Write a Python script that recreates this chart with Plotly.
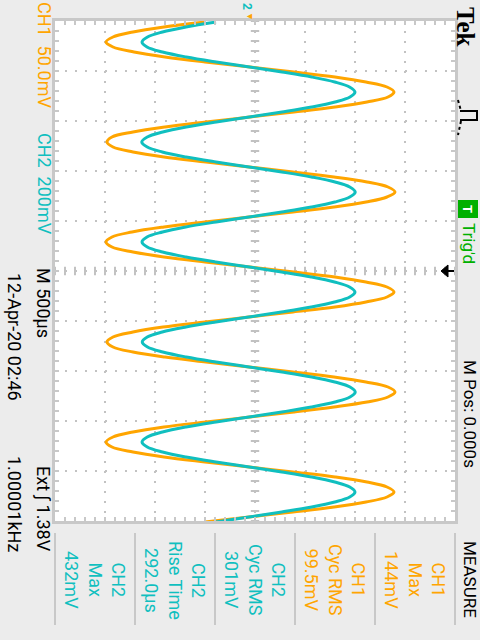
import numpy as np
import plotly.graph_objects as go

sample_interval_ms = 0.05      # one sample every 50 us
first_sample_ms = -2.49        # time of first sample (M Pos = 0.000 s at centre)

ch1_mv = [
    -44, -85, -116, -136, -143, -136, -115, -84, -44, 1, 45, 86, 117, 138, 145, 139, 118, 86, 45, 1,
    -43, -84, -116, -137, -142, -136, -116, -85, -43, 0, 44, 85, 118, 139, 146, 138, 117, 85, 44, 0,
    -44, -85, -117, -137, -143, -137, -116, -85, -44, 1, 45, 86, 117, 138, 145, 138, 117, 86, 44, 0,
    -44, -86, -116, -136, -142, -136, -116, -84, -43, 0, 44, 85, 117, 139, 146, 139, 118, 85, 45, 1,
    -43, -85, -116, -136, -143, -137, -116, -85, -44, 0, 44, 86, 118, 138, 145, 138, 117, 85, 44, 0,
    -44,
]
ch2_mv = [
    -132, -252, -346, -406, -428, -408, -346, -251, -131, 2, 132, 251, 343, 402, 424, 404, 344, 251, 132, 1,
    -131, -251, -345, -407, -429, -407, -347, -252, -132, 0, 131, 250, 344, 403, 425, 403, 343, 250, 131, 0,
    -132, -253, -346, -408, -428, -407, -346, -252, -133, 1, 130, 249, 342, 402, 424, 403, 342, 249, 130, -1,
    -133, -252, -347, -407, -427, -406, -345, -251, -132, 0, 132, 251, 343, 404, 425, 404, 344, 250, 131, 0,
    -132, -252, -346, -407, -428, -407, -346, -252, -132, 1, 131, 250, 343, 403, 424, 403, 343, 251, 131, 0,
    -132,
]
time_ms = first_sample_ms + sample_interval_ms * np.arange(len(ch1_mv))

ch1_scale_mv = 50.0     # per division
ch2_scale_mv = 200.0
ground_div = -0.12      # ground marker position (divisions from centre)
h_divs = 8              # voltage divisions (across)
t_half_ms = 2.5         # 10 div x 500 us

meas_sources = ["CH1", "CH1", "CH2", "CH2", "CH2"]
meas_types = ["Max", "Cyc RMS", "Cyc RMS", "Rise Time", "Max"]
meas_values = ["144mV", "99.5mV", "301mV", "292.0µs", "432mV"]

ORANGE = "#ffa500"
TEAL = "#10bfbf"
GRID = "#c2c2c2"
BORDER = "#c8c8c8"
BG = "#ececec"

W, H = 480, 640
ML, MR, MT, MB = 55, 25, 21, 119
PW, PH = W - ML - MR, H - MT - MB


def px(x):
    return (x - ML) / PW


def py(y):
    return (H - MB - y) / PH


def path(points):
    return "M " + " L ".join(f"{px(a):.5f},{py(b):.5f}" for a, b in points)


fig = go.Figure()

# graticule centre-line tick marks
cy = np.arange(-t_half_ms, t_half_ms + 1e-9, 0.1)
cx = np.arange(-h_divs / 2, h_divs / 2 + 1e-9, 0.2)
fig.add_trace(go.Scatter(x=np.zeros_like(cy), y=cy, mode="markers", xaxis="x", yaxis="y",
                         marker=dict(symbol="line-ew", size=6, line=dict(color=GRID, width=2)),
                         hoverinfo="skip"))
fig.add_trace(go.Scatter(x=cx, y=np.zeros_like(cx), mode="markers", xaxis="x", yaxis="y",
                         marker=dict(symbol="line-ns", size=6, line=dict(color=GRID, width=2)),
                         hoverinfo="skip"))

fig.add_trace(go.Scatter(x=ch1_mv, y=time_ms, mode="lines", xaxis="x2", yaxis="y",
                         line=dict(color=ORANGE, width=3, shape="spline"), name="CH1"))
fig.add_trace(go.Scatter(x=ch2_mv, y=time_ms, mode="lines", xaxis="x3", yaxis="y",
                         line=dict(color=TEAL, width=3, shape="spline"), name="CH2"))

lo = -h_divs / 2 - ground_div
hi = h_divs / 2 - ground_div

axis_common = dict(showgrid=True, gridcolor=GRID, gridwidth=2, griddash="2px,8px",
                   zeroline=False, showticklabels=False, ticks="inside", ticklen=4,
                   tickwidth=2, tickcolor=BORDER, showline=True, linecolor=BORDER,
                   linewidth=3, mirror="ticks", fixedrange=True)

fig.update_layout(
    width=W, height=H, autosize=False,
    margin=dict(l=ML, r=MR, t=MT, b=MB, pad=0),
    paper_bgcolor=BG, plot_bgcolor="white", showlegend=False,
    xaxis=dict(range=[-h_divs / 2, h_divs / 2], dtick=1, tick0=0,
               minor=dict(dtick=0.2, ticks="inside", ticklen=4, tickwidth=2,
                          tickcolor=BORDER, showgrid=False), **axis_common),
    xaxis2=dict(range=[lo * ch1_scale_mv, hi * ch1_scale_mv], overlaying="x", visible=False,
                fixedrange=True),
    xaxis3=dict(range=[lo * ch2_scale_mv, hi * ch2_scale_mv], overlaying="x", visible=False,
                fixedrange=True),
    yaxis=dict(range=[t_half_ms, -t_half_ms], dtick=0.5, tick0=0,
               minor=dict(dtick=0.1, ticks="inside", ticklen=4, tickwidth=2,
                          tickcolor=BORDER, showgrid=False), **axis_common),
)

FONT = "Roboto"
anns = []


def ann(text, x, y, color="black", size=18, family=FONT, **kw):
    anns.append(dict(text=text, x=px(x), y=py(y), xref="paper", yref="paper",
                     showarrow=False, textangle=90, xanchor="center", yanchor="middle",
                     font=dict(color=color, size=size, family=family), **kw))


# left strip
ann("CH1  50.0mV", 44, 55, ORANGE)
ann("CH2  200mV", 44, 184, TEAL)
ann("M 500µs", 44, 303)
ann("Ext ∫ 1.38V", 44, 509)
ann("12-Apr-20 02:46", 15, 337)
ann("1.00001kHz", 15, 504)

# right strip
ann("<b>Tek</b>", 466, 26, "black", 25, "Liberation Serif")
ann("Trig'd", 469, 244, "#00b000", 17)
ann("M Pos: 0.000s", 470, 414, "black", 17)
ann("MEASURE", 470, 579, "black", 17)
ann("<b>T</b>", 468, 209, "white", 13)

# ground markers
ann("<b>2</b>", 247, 6, TEAL, 12)
ann("▼", 250, 16, ORANGE, 9)

# measurement boxes
box_centers = [415, 335, 255, 175, 95]
for cxp, s, t, v in zip(box_centers, meas_sources, meas_types, meas_values):
    col = ORANGE if s == "CH1" else TEAL
    ann(f"{s}<br>{t}<br>{v}", cxp, 580, col, 18, align="center")

fig.update_layout(annotations=anns)

shapes = []
for xd in [55, 135, 215, 295, 375, 455]:
    shapes.append(dict(type="line", xref="paper", yref="paper", x0=px(xd), x1=px(xd),
                       y0=py(533), y1=py(625), line=dict(color=BORDER, width=2)))
# Trig'd box
shapes.append(dict(type="rect", xref="paper", yref="paper", x0=px(458), x1=px(478),
                   y0=py(218), y1=py(200), fillcolor="#00b000", line=dict(width=0), layer="below"))
# trigger type icon
shapes.append(dict(type="path", xref="paper", yref="paper",
                   path=path([(458, 100), (461, 111)]), line=dict(color="black", width=2, dash="dot")))
shapes.append(dict(type="path", xref="paper", yref="paper",
                   path=path([(460, 111), (477, 111), (477, 120), (460, 120)]),
                   line=dict(color="black", width=2)))
shapes.append(dict(type="path", xref="paper", yref="paper",
                   path=path([(461, 121), (458, 135)]), line=dict(color="black", width=2, dash="dot")))
# trigger position marker
shapes.append(dict(type="path", xref="paper", yref="paper",
                   path=path([(441, 271), (448, 265), (448, 277)]) + " Z",
                   fillcolor="black", line=dict(color="black", width=1)))
shapes.append(dict(type="path", xref="paper", yref="paper",
                   path=path([(447, 271), (454, 271)]), line=dict(color="black", width=2)))
fig.update_layout(shapes=shapes)

fig.write_html("out.html")
